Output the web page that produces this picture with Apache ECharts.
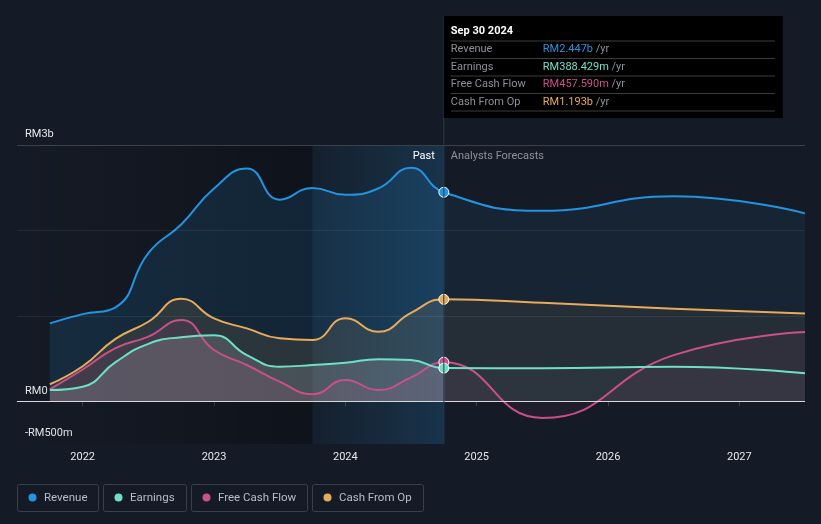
<!DOCTYPE html>
<html><head><meta charset="utf-8">
<script src="https://cdn.jsdelivr.net/npm/echarts@6/dist/echarts.min.js"></script>
<style>html,body{margin:0;padding:0;background:#151b26;}#c{width:821px;height:524px;}</style>
</head><body><div id="c"></div>
<script>
// ---- data ----
const pastX = [2021.75, 2022, 2022.25, 2022.5, 2022.75, 2023, 2023.25, 2023.5, 2023.75, 2024, 2024.25, 2024.5, 2024.75];
const forecastX = [2025.5, 2026.5, 2027.5];
const seriesNames = ['Revenue', 'Earnings', 'Free Cash Flow', 'Cash From Op'];
const revenue = [912, 1020, 1100, 1734, 2070, 2491, 2725, 2360, 2498, 2417, 2491, 2733, 2447, 2229, 2400, 2200];
const earnings = [132, 171, 458, 672, 750, 772, 541, 405, 425, 452, 493, 483, 388.429, 386, 405, 327];
const freeCashFlow = [140, 372, 623, 756, 951, 600, 425, 230, 83, 249, 132, 280, 457.59, -195, 540, 810];
const cashFromOp = [199, 410, 730, 931, 1200, 970, 853, 737, 717, 972, 814, 1035, 1193, 1153, 1083, 1029];
const xTicks = [2022, 2023, 2024, 2025, 2026, 2027];
const yTicks = [-500, 0, 3000];
const yTickLabels = ['-RM500m', 'RM0', 'RM3b'];
const gridValues = [1000, 2000];
const tipTitle = 'Sep 30 2024';
const regionLabels = ['Past', 'Analysts Forecasts'];

const colors = ['#2394df', '#6fe0c8', '#c9508a', '#e8ab5b'];

const years = pastX.concat(forecastX);
const idxNow = pastX.length - 1;
const nowX = pastX[idxNow];
const highlightStart = pastX[idxNow] - 1;
const xMin = 2021.5, xMax = 2027.5;
const split = (nowX - years[0]) / (years[years.length - 1] - years[0]);
const allVals = [revenue, earnings, freeCashFlow, cashFromOp];

function fill(rgb, a1, a2) {
  return new echarts.graphic.LinearGradient(0, 0, 1, 0, [
    {offset: 0, color: 'rgba(' + rgb + ',' + a1 + ')'},
    {offset: split, color: 'rgba(' + rgb + ',' + a1 + ')'},
    {offset: Math.min(1, split + 0.002), color: 'rgba(' + rgb + ',' + a2 + ')'},
    {offset: 1, color: 'rgba(' + rgb + ',' + a2 + ')'}
  ]);
}
function fmt(v) {
  return v >= 1000 ? 'RM' + (v / 1000).toFixed(3) + 'b' : 'RM' + v.toFixed(3) + 'm';
}

const fillAlpha = [[0.2, 0.11], [0.26, 0.06], [0.18, 0.09], [0.16, 0.1]];
const fillRgb = ['35,148,223', '205,205,212', '201,80,138', '232,171,91'];
const order = [0, 3, 2, 1];

const FONT = 'Roboto, sans-serif';
const chart = echarts.init(document.getElementById('c'), null, {renderer: 'canvas'});

const series = order.map(function (i) {
  return {
    name: seriesNames[i], type: 'line', z: 3,
    data: years.map(function (x, k) { return [x, allVals[i][k]]; }),
    smooth: 0.5,
    showSymbol: true, symbol: 'circle',
    symbolSize: function (v, p) { return p.dataIndex === idxNow ? 10 : 0; },
    itemStyle: {color: colors[i], borderColor: '#ffffff', borderWidth: 1},
    lineStyle: {color: colors[i], width: 2},
    areaStyle: {color: fill(fillRgb[i], fillAlpha[i][0], fillAlpha[i][1]), origin: 0},
    emphasis: {disabled: true}, silent: true
  };
});

// background regions (under lines)
series.unshift({
  type: 'line', data: [], z: 1, silent: true,
  markArea: {silent: true, data: [[
    {xAxis: xMin, itemStyle: {color: new echarts.graphic.LinearGradient(0, 0, 1, 0, [
      {offset: 0, color: 'rgba(0,0,0,0)'}, {offset: 1, color: 'rgba(0,0,0,0.3)'}])}},
    {xAxis: highlightStart}
  ]]}
});
// highlight overlay + grid lines (over lines)
series.push({
  type: 'line', data: [], z: 5, silent: true,
  markArea: {silent: true, data: [[
    {xAxis: highlightStart, itemStyle: {color: new echarts.graphic.LinearGradient(0, 0, 1, 0, [
      {offset: 0, color: 'rgba(35,148,223,0.04)'}, {offset: 1, color: 'rgba(35,148,223,0.2)'}])}},
    {xAxis: nowX}
  ]]},
  markLine: {silent: true, symbol: 'none', label: {show: false},
    data: gridValues.map(function (v) { return {yAxis: v, lineStyle: {color: 'rgba(255,255,255,0.07)', width: 1, type: 'solid'}}; })
      .concat([{yAxis: yTicks[2], lineStyle: {color: '#3b404a', width: 1, type: 'solid'}},
               {yAxis: 0, lineStyle: {color: '#d6d8dc', width: 1, type: 'solid'}}])
  }
});

chart.setOption({
  backgroundColor: '#151b26',
  animation: false,
  grid: {left: 17, right: 16, top: 145, bottom: 80},
  xAxis: {
    type: 'value', min: xMin, max: xMax,
    axisLine: {show: true, lineStyle: {color: '#3a3f4a'}},
    axisTick: {show: true, customValues: xTicks, length: 5, lineStyle: {color: '#3a3f4a'}},
    axisLabel: {customValues: xTicks, color: '#e6e8eb', fontSize: 11, fontFamily: FONT, margin: 8,
      formatter: function (v) { return String(v); }},
    splitLine: {show: false}
  },
  yAxis: {
    type: 'value', min: yTicks[0], max: yTicks[2],
    axisLine: {show: false}, axisTick: {show: false}, splitLine: {show: false},
    axisLabel: {customValues: yTicks, inside: true, margin: 8, color: '#e6e8eb', fontSize: 11, fontFamily: FONT,
      verticalAlign: 'bottom', padding: [0, 0, 5, 0],
      formatter: function (v) { const k = yTicks.indexOf(v); return k >= 0 ? yTickLabels[k] : ''; }}
  },
  series: series
});

// overlays: tooltip box, region labels, legend
const px = chart.convertToPixel({gridIndex: 0}, [nowX, 0])[0];
const gridBottom = chart.convertToPixel({gridIndex: 0}, [nowX, yTicks[0]])[1];
const gridTop = chart.convertToPixel({gridIndex: 0}, [nowX, yTicks[2]])[1];

const LEG_FONT = '11.5px Roboto';
const ctx = document.createElement('canvas').getContext('2d');
ctx.font = LEG_FONT;

const g = [];
g.push({type: 'line', silent: true, z: 10, shape: {x1: px, y1: 16, x2: px, y2: gridBottom}, style: {stroke: '#2a3b4e', lineWidth: 1}});
g.push({type: 'rect', silent: true, z: 20, shape: {x: px, y: 16, width: 339, height: 102}, style: {fill: '#000000'}});
g.push({type: 'text', silent: true, z: 21, x: px + 7, y: 31, style: {text: tipTitle, fill: '#ffffff', font: 'bold 11px ' + FONT, verticalAlign: 'middle'}});
const rowYs = [49.5, 67, 84.5, 102];
const sepYs = [41, 58.5, 76, 93.5, 111];
sepYs.forEach(function (y) {
  g.push({type: 'line', silent: true, z: 21, shape: {x1: px + 7, y1: y, x2: px + 331, y2: y}, style: {stroke: '#3c3c3c', lineWidth: 1}});
});
[0, 1, 2, 3].forEach(function (i) {
  g.push({type: 'text', silent: true, z: 21, x: px + 7, y: rowYs[i], style: {text: seriesNames[i], fill: '#8c9098', font: '11px ' + FONT, verticalAlign: 'middle'}});
  g.push({type: 'text', silent: true, z: 21, x: px + 99, y: rowYs[i], style: {
    text: '{v|' + fmt(allVals[i][idxNow]) + '} {u|/yr}', verticalAlign: 'middle', font: '11px ' + FONT,
    rich: {v: {fill: colors[i], font: '11px ' + FONT}, u: {fill: '#8c9098', font: '11px ' + FONT}}}});
});
g.push({type: 'text', silent: true, z: 21, x: px - 9, y: gridTop + 11, style: {text: regionLabels[0], fill: '#ffffff', font: '11px ' + FONT, align: 'right', verticalAlign: 'middle'}});
g.push({type: 'text', silent: true, z: 21, x: px + 7, y: gridTop + 11, style: {text: regionLabels[1], fill: '#8c9098', font: '11px ' + FONT, verticalAlign: 'middle'}});

let lx = 17;
[0, 1, 2, 3].forEach(function (i) {
  const w = Math.round(27 + ctx.measureText(seriesNames[i]).width + 11);
  g.push({type: 'rect', silent: true, z: 21, shape: {x: lx + 0.5, y: 484.5, width: w, height: 27, r: 2}, style: {fill: 'transparent', stroke: '#3a3f4a', lineWidth: 1}});
  g.push({type: 'circle', silent: true, z: 21, shape: {cx: lx + 15.5, cy: 497.5, r: 4}, style: {fill: colors[i]}});
  g.push({type: 'text', silent: true, z: 21, x: lx + 27, y: 498, style: {text: seriesNames[i], fill: '#b8bcc4', font: LEG_FONT, verticalAlign: 'middle'}});
  lx += w + 5;
});
chart.setOption({graphic: g});
</script></body></html>
